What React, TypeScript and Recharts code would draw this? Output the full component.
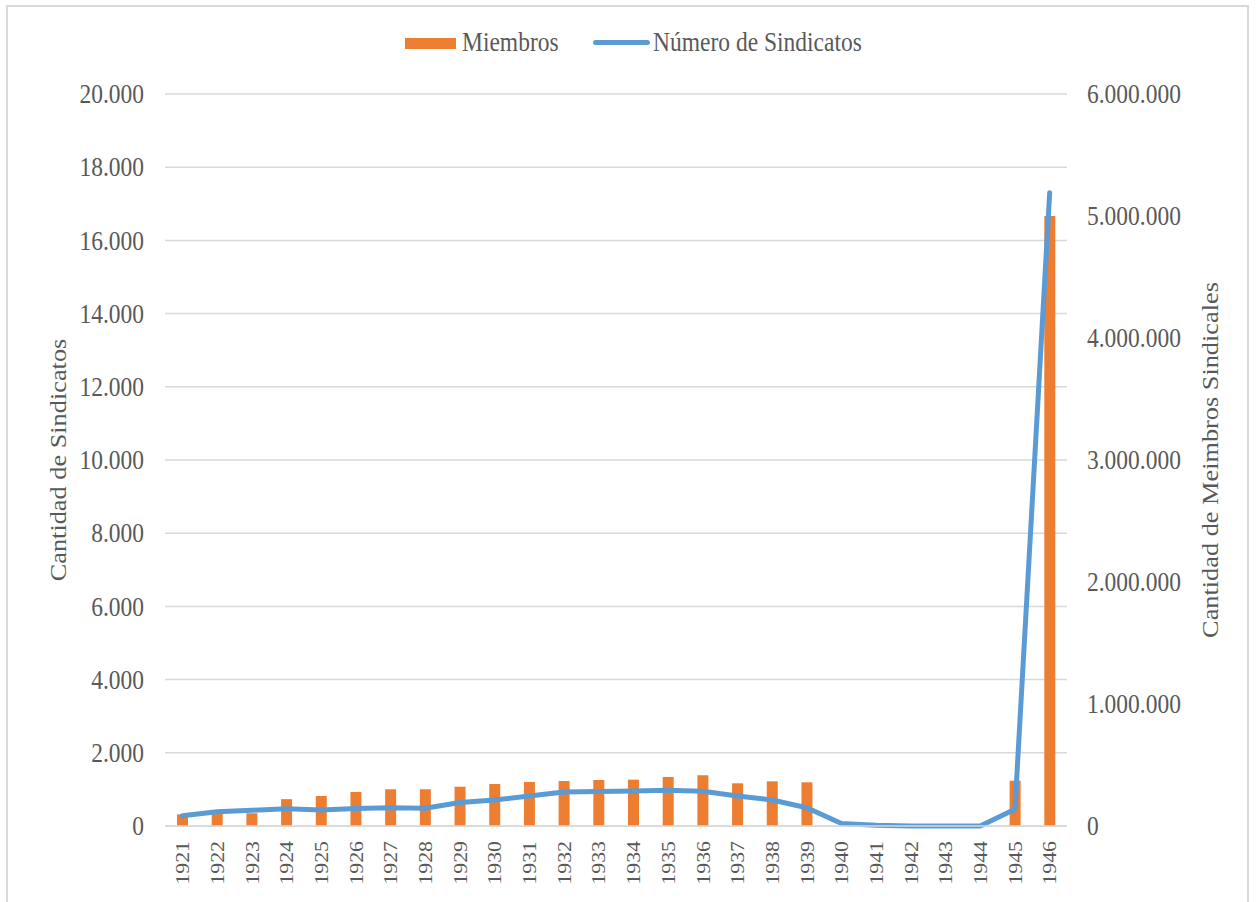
import { ComposedChart, Bar, Line, XAxis, YAxis, CartesianGrid } from 'recharts'

// Años (eje X)
const years = [
  '1921', '1922', '1923', '1924', '1925', '1926', '1927', '1928', '1929', '1930',
  '1931', '1932', '1933', '1934', '1935', '1936', '1937', '1938', '1939', '1940',
  '1941', '1942', '1943', '1944', '1945', '1946',
]

// Número de sindicatos (eje izquierdo)
const sindicatos = [
  280, 390, 430, 470, 440, 480, 500, 485, 640, 710,
  820, 930, 940, 955, 975, 950, 820, 710, 500, 70,
  20, 0, 0, 0, 460, 17300,
]

// Miembros (eje derecho)
const miembros = [
  95000, 105000, 105000, 220000, 246000, 279000, 301000, 301000, 322000, 344000,
  361000, 369000, 377000, 380000, 402000, 416000, 350000, 366000, 358000, 0,
  0, 0, 0, 0, 371000, 5000000,
]

const leftTicks = [0, 2000, 4000, 6000, 8000, 10000, 12000, 14000, 16000, 18000, 20000]
const rightTicks = [0, 1000000, 2000000, 3000000, 4000000, 5000000, 6000000]

const data = years.map((y, i) => ({ year: y, sindicatos: sindicatos[i], miembros: miembros[i] }))

const FONT = '"Liberation Serif", "Times New Roman", serif'
const TEXT = '#595959'
const STRETCH = 1.12

const fmt = (n: number) => String(n).replace(/\B(?=(\d{3})+(?!\d))/g, '.')

const LeftTick = ({ x, y, payload }: any) => (
  <g transform={`translate(${x - 13},${y}) scale(1,${STRETCH})`}>
    <text x={0} y={0} dy="0.35em" textAnchor="end" fontSize={23.5} fontFamily={FONT} fill={TEXT}>
      {fmt(payload.value)}
    </text>
  </g>
)

const RightTick = ({ x, y, payload }: any) => (
  <g transform={`translate(${x + 12},${y}) scale(1,${STRETCH})`}>
    <text x={0} y={0} dy="0.35em" textAnchor="start" fontSize={23.5} fontFamily={FONT} fill={TEXT}>
      {fmt(payload.value)}
    </text>
  </g>
)

const YearTick = ({ x, y, payload }: any) => (
  <g transform={`translate(${x},${y + 7}) rotate(-90) scale(${STRETCH},1)`}>
    <text x={0} y={0} dy="0.35em" textAnchor="end" fontSize={19.5} fontFamily={FONT} fill={TEXT}>
      {payload.value}
    </text>
  </g>
)

const AxisTitle = ({ cx, cy, value }: any) => (
  <g transform={`translate(${cx},${cy}) rotate(-90) scale(${STRETCH},1)`}>
    <text x={0} y={0} dy="0.35em" textAnchor="middle" fontSize={23.5} fontFamily={FONT} fill={TEXT}>
      {value}
    </text>
  </g>
)

export default function App() {
  return (
    <div style={{ position: 'relative', width: 1257, height: 902, overflow: 'hidden', background: '#fff' }}>
      <style>{'body{margin:0;background:#fff}'}</style>
      <div
        style={{
          position: 'absolute', left: 6, top: 5, width: 1243, height: 1000,
          border: '2px solid #d9d9d9', boxSizing: 'border-box',
        }}
      />

      {/* Leyenda */}
      <div style={{ position: 'absolute', left: 405, top: 38, width: 51, height: 11, background: '#ED7D31' }} />
      <div style={{ position: 'absolute', left: 593, top: 40, width: 57, height: 5, borderRadius: 3, background: '#5B9BD5' }} />
      <div
        style={{
          position: 'absolute', left: 462, top: 27, fontFamily: FONT, fontSize: 23.5, color: TEXT,
          lineHeight: '30px', transform: `scaleY(${STRETCH})`, whiteSpace: 'nowrap',
        }}
      >
        Miembros
      </div>
      <div
        style={{
          position: 'absolute', left: 653, top: 27, fontFamily: FONT, fontSize: 23.5, color: TEXT,
          lineHeight: '30px', transform: `scaleY(${STRETCH})`, whiteSpace: 'nowrap',
        }}
      >
        Número de Sindicatos
      </div>

      <div style={{ position: 'absolute', left: 0, top: 0 }}>
        <ComposedChart width={1257} height={902} data={data} margin={{ top: 94, right: 0, bottom: 0, left: 0 }}>
          <CartesianGrid yAxisId="left" vertical={false} stroke="#d9d9d9" strokeWidth={1.5} />
          <XAxis
            dataKey="year"
            interval={0}
            height={76}
            tickLine={false}
            axisLine={{ stroke: '#d9d9d9', strokeWidth: 1.5 }}
            tick={<YearTick />}
          />
          <YAxis
            yAxisId="left"
            orientation="left"
            width={165}
            domain={[0, 20000]}
            ticks={leftTicks}
            axisLine={false}
            tickLine={false}
            tick={<LeftTick />}
            label={<AxisTitle cx={58} cy={460} value="Cantidad de Sindicatos" />}
          />
          <YAxis
            yAxisId="right"
            orientation="right"
            width={190}
            domain={[0, 6000000]}
            ticks={rightTicks}
            axisLine={false}
            tickLine={false}
            tick={<RightTick />}
            label={<AxisTitle cx={1210} cy={460} value="Cantidad de Meimbros Sindicales" />}
          />
          <Bar yAxisId="right" dataKey="miembros" fill="#ED7D31" barSize={11} isAnimationActive={false} />
          <Line
            yAxisId="left"
            type="linear"
            dataKey="sindicatos"
            stroke="#5B9BD5"
            strokeWidth={5}
            strokeLinecap="round"
            strokeLinejoin="round"
            dot={false}
            activeDot={false}
            isAnimationActive={false}
          />
        </ComposedChart>
      </div>
    </div>
  )
}
